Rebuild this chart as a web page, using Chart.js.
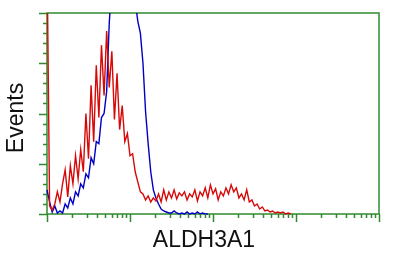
<!DOCTYPE html>
<html>
<head>
<meta charset="utf-8">
<script src="https://cdn.jsdelivr.net/npm/chart.js@4/dist/chart.umd.min.js"></script>
<style>
  html, body { margin: 0; padding: 0; background: #fff; }
  #wrap { width: 400px; height: 265px; }
</style>
</head>
<body>
<div id="wrap"><canvas id="histChart" width="400" height="265"></canvas></div>
<script>
// 128 log channels over 4 decades (32 per decade), counts per channel
const CHANNELS_PER_DECADE = 32;

const redCounts = [
  260, 8, 4, 10, 22, 12, 30, 44, 17, 48, 30, 58, 35, 64, 42, 100,
  55, 128, 72, 148, 96, 168, 118, 182, 126, 162, 94, 140, 84, 108, 72, 80,
  58, 60, 42, 32, 22, 20, 14, 18, 12, 16, 13, 20, 12, 24, 14, 22,
  16, 24, 15, 21, 18, 22, 14, 20, 17, 24, 13, 22, 18, 26, 16, 29,
  20, 25, 14, 22, 18, 26, 20, 29, 22, 26, 16, 20, 14, 24, 12, 14,
  8, 10, 5, 7, 3, 4, 2, 3, 1, 2, 1, 2, 0, 1, 0
];

const blueCounts = [
  24, 12, 2, 8, 1, 3, 1, 10, 6, 16, 10, 22, 18, 30, 26, 40,
  36, 56, 50, 72, 70, 96, 100, 122, 190, 230, 250, 260, 265, 265, 260, 255,
  240, 225, 212, 192, 180, 150, 102, 70, 42, 24, 16, 10, 5, 3, 2, 1,
  1, 3, 1, 0, 1, 0, 2, 0, 1, 0, 2, 0, 1, 0, 0
];

// x ticks: 1..9 x 10^d plus the last decade, y ticks every 10 counts
const xTickValues = [];
for (let d = 0; d < 4; d++) {
  for (let k = 1; k <= 9; k++) xTickValues.push(k * Math.pow(10, d));
}
xTickValues.push(10000);
const yTickValues = [0, 10, 20, 30, 40, 50, 60, 70, 80, 90, 100, 110, 120, 130, 140, 150, 160, 170, 180, 190, 200];

const AXIS_COLOR = '#2f8a2f';
const RED = 'rgb(215, 8, 8)';
const BLUE = 'rgb(0, 0, 195)';
const FONT = '"Liberation Sans", Arial, sans-serif';

const toPoints = (counts) =>
  counts.map((v, i) => ({ x: Math.pow(10, i / CHANNELS_PER_DECADE), y: v }));

const framePlugin = {
  id: 'frame',
  beforeDatasetsDraw(chart) {
    const { ctx, chartArea: a } = chart;
    ctx.save();
    ctx.strokeStyle = AXIS_COLOR;
    ctx.lineWidth = 1.5;
    ctx.strokeRect(a.left, a.top, a.right - a.left, a.bottom - a.top);
    ctx.restore();
  },
  afterDraw(chart) {
    const { ctx, chartArea: a, scales } = chart;
    ctx.save();
    ctx.strokeStyle = AXIS_COLOR;
    ctx.lineWidth = 1.5;
    ctx.beginPath();
    xTickValues.forEach((v) => {
      const px = Math.round(scales.x.getPixelForValue(v)) + 0.5;
      const major = Math.log10(v) % 1 === 0;
      ctx.moveTo(px, a.bottom);
      ctx.lineTo(px, a.bottom + (major ? 8 : 4));
    });
    yTickValues.forEach((v) => {
      const py = Math.round(scales.y.getPixelForValue(v)) + 0.5;
      const major = v % 50 === 0;
      ctx.moveTo(a.left, py);
      ctx.lineTo(a.left - (major ? 8 : 4), py);
    });
    ctx.stroke();

    // axis titles
    ctx.fillStyle = '#111';
    ctx.font = '23px ' + FONT;
    ctx.textAlign = 'center';
    ctx.textBaseline = 'middle';
    ctx.fillText('ALDH3A1', 204, 241);
    ctx.translate(17, 118);
    ctx.rotate(-Math.PI / 2);
    ctx.fillText('Events', 0, 0);
    ctx.restore();
  },
};

new Chart(document.getElementById('histChart').getContext('2d'), {
  type: 'line',
  data: {
    datasets: [
      {
        label: 'ALDH3A1',
        data: toPoints(redCounts),
        borderColor: RED,
        borderWidth: 1.4,
        pointRadius: 0,
        tension: 0,
        clip: { left: 2, top: 0, right: 0, bottom: 1 },
      },
      {
        label: 'Control',
        data: toPoints(blueCounts),
        borderColor: BLUE,
        borderWidth: 1.4,
        pointRadius: 0,
        tension: 0,
        clip: { left: 2, top: 0, right: 0, bottom: 1 },
      },
    ],
  },
  options: {
    responsive: false,
    animation: false,
    layout: { padding: { left: 47, right: 21, top: 13, bottom: 51 } },
    plugins: {
      legend: { display: false },
      tooltip: { enabled: false },
    },
    scales: {
      x: { type: 'logarithmic', min: 1, max: 10000, display: false },
      y: { type: 'linear', min: 0, max: 200, display: false },
    },
  },
  plugins: [framePlugin],
});
</script>
</body>
</html>
